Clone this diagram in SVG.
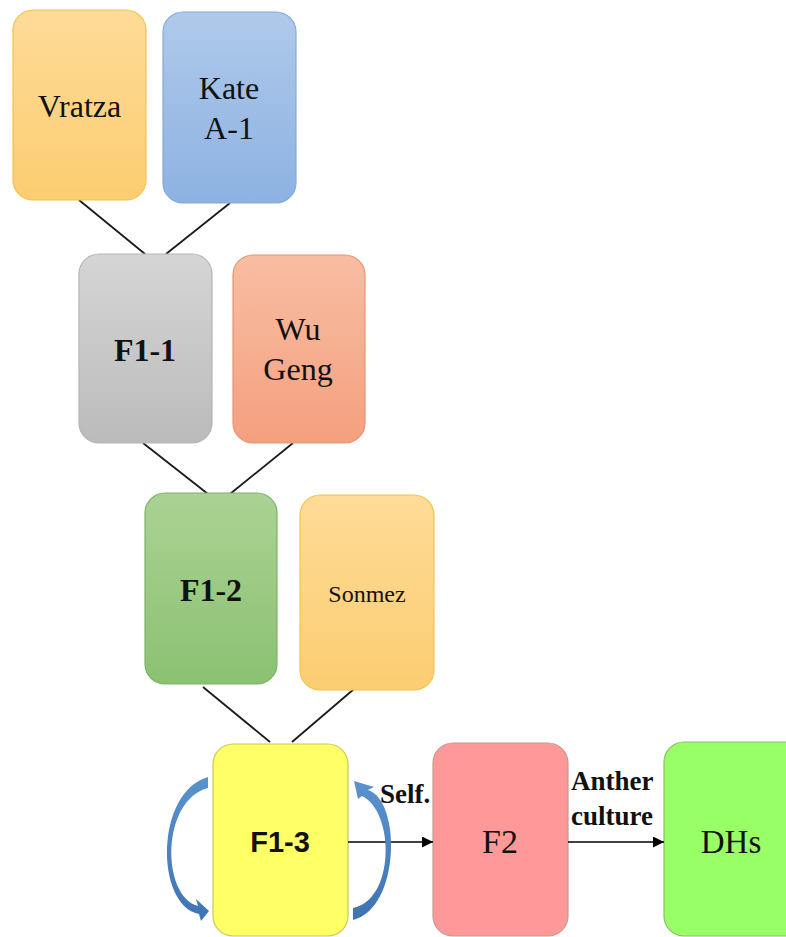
<svg xmlns="http://www.w3.org/2000/svg" width="786" height="937" viewBox="0 0 786 937">
<defs>
<linearGradient id="gOrange" x1="0" y1="0" x2="0" y2="1"><stop offset="0" stop-color="#FEDB97"/><stop offset="1" stop-color="#FCCD72"/></linearGradient>
<linearGradient id="gBlue" x1="0" y1="0" x2="0" y2="1"><stop offset="0" stop-color="#AFC9EA"/><stop offset="1" stop-color="#8DB2E2"/></linearGradient>
<linearGradient id="gGray" x1="0" y1="0" x2="0" y2="1"><stop offset="0" stop-color="#D5D5D5"/><stop offset="1" stop-color="#BBBBBB"/></linearGradient>
<linearGradient id="gSalmon" x1="0" y1="0" x2="0" y2="1"><stop offset="0" stop-color="#F8BDA3"/><stop offset="1" stop-color="#F4A07E"/></linearGradient>
<linearGradient id="gGreen" x1="0" y1="0" x2="0" y2="1"><stop offset="0" stop-color="#ABD293"/><stop offset="1" stop-color="#8BC172"/></linearGradient>
<linearGradient id="gArrow" x1="0" y1="0" x2="0" y2="1"><stop offset="0" stop-color="#5A92CF"/><stop offset="1" stop-color="#3F74B3"/></linearGradient>
<marker id="ah" viewBox="0 0 10 10" refX="10" refY="5" markerWidth="13" markerHeight="11" markerUnits="userSpaceOnUse" orient="auto"><path d="M0,0 L10,5 L0,10 Z" fill="#000"/></marker>
</defs>
<style>
.node rect{stroke-width:1.2}
.serif{font-family:"Liberation Serif","Times New Roman",serif;fill:#111;text-anchor:middle}
.sans{font-family:"Liberation Sans",Arial,sans-serif;fill:#111;text-anchor:middle;font-weight:bold}
.lbl{font-family:"Liberation Serif","Times New Roman",serif;fill:#111;font-weight:bold;font-size:27px}
.conn line{stroke:#1a1a1a;stroke-width:1.8}
.flow line{stroke:#000;stroke-width:1.6}
.self path{fill:url(#gArrow)}
</style>

<g id="connectors" class="conn">
<line x1="79" y1="200" x2="145" y2="254"/>
<line x1="230" y1="203" x2="166" y2="254"/>
<line x1="143" y1="443" x2="208" y2="494"/>
<line x1="293" y1="443" x2="230" y2="494"/>
<line x1="203" y1="687" x2="270" y2="742"/>
<line x1="354" y1="689" x2="292" y2="742"/>
</g>

<g id="node-vratza" class="node">
<rect x="13" y="10" width="133" height="190" rx="20" fill="url(#gOrange)" stroke="#F2C449"/>
<text class="serif" x="79.5" y="117" font-size="32">Vratza</text>
</g>
<g id="node-kate" class="node">
<rect x="163" y="12" width="133" height="191" rx="20" fill="url(#gBlue)" stroke="#83A9D8"/>
<text class="serif" x="229" y="99" font-size="32">Kate</text>
<text class="serif" x="229" y="139" font-size="32">A-1</text>
</g>
<g id="node-f11" class="node">
<rect x="79" y="254" width="133" height="189" rx="20" fill="url(#gGray)" stroke="#B5B5B5"/>
<text class="serif" x="145" y="361" font-size="32" font-weight="bold">F1-1</text>
</g>
<g id="node-wugeng" class="node">
<rect x="233" y="255" width="132" height="188" rx="20" fill="url(#gSalmon)" stroke="#E59472"/>
<text class="serif" x="298" y="340" font-size="32">Wu</text>
<text class="serif" x="298" y="380" font-size="32">Geng</text>
</g>
<g id="node-f12" class="node">
<rect x="145" y="493" width="132" height="191" rx="20" fill="url(#gGreen)" stroke="#7DB267"/>
<text class="serif" x="211" y="601" font-size="32" font-weight="bold">F1-2</text>
</g>
<g id="node-sonmez" class="node">
<rect x="300" y="495" width="134" height="195" rx="20" fill="url(#gOrange)" stroke="#F2C449"/>
<text class="serif" x="367" y="602" font-size="24">Sonmez</text>
</g>
<g id="node-f13" class="node">
<rect x="213" y="744" width="135" height="192" rx="20" fill="#FFFF66" stroke="#C9C95A"/>
<text class="sans" x="280" y="852" font-size="29">F1-3</text>
</g>
<g id="node-f2" class="node">
<rect x="433" y="743" width="135" height="193" rx="20" fill="#FF9999" stroke="#C39B8E"/>
<text class="serif" x="500" y="853" font-size="34">F2</text>
</g>
<g id="node-dhs" class="node">
<rect x="664" y="742" width="150" height="194" rx="20" fill="#99FF66" stroke="#8BBE6A"/>
<text class="serif" x="731" y="853" font-size="33">DHs</text>
</g>

<g id="flow" class="flow">
<line x1="348" y1="842" x2="433" y2="842" marker-end="url(#ah)"/>
<line x1="568" y1="842" x2="664" y2="842" marker-end="url(#ah)"/>
</g>

<g id="self-arrows" class="self">
<path d="M208,777 C155,792 155,905 199,914 L201,921 L209,911 L196,899 L198,906 C161,896 161,800 208,788 Z"/>
<path d="M353,920 C401,908 401,800 368,790 L374,787 L354,781 L358,799 L362,796 C395,812 395,900 353,908 Z"/>
</g>

<g id="labels">
<text class="lbl" x="380" y="803">Self.</text>
<text class="lbl" x="571" y="790">Anther</text>
<text class="lbl" x="571" y="825">culture</text>
</g>
</svg>
